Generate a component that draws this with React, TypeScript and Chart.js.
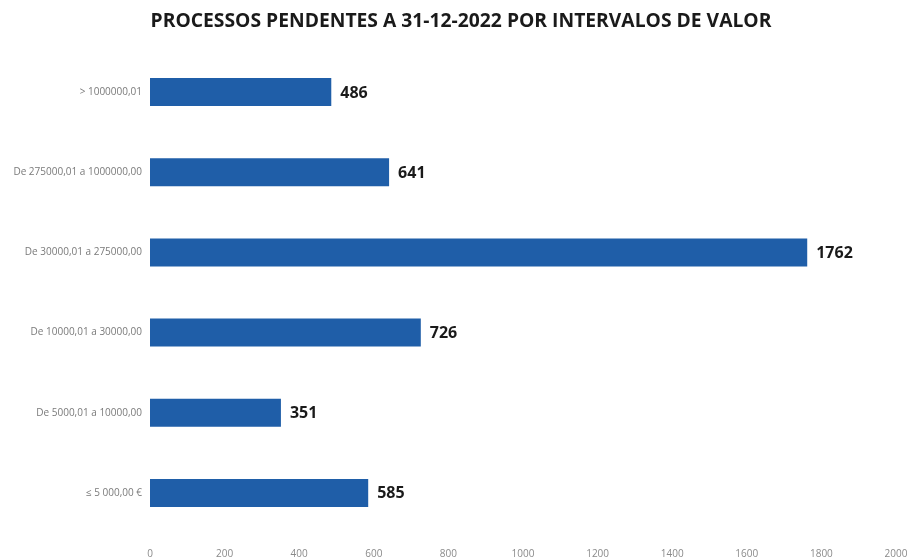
import React, { useEffect, useRef } from "react";
import { Chart, registerables } from "chart.js";

Chart.register(...registerables);

const TITLE = "PROCESSOS PENDENTES A 31-12-2022 POR INTERVALOS DE VALOR";
const categories = [
  "> 1000000,01",
  "De 275000,01 a 1000000,00",
  "De 30000,01 a 275000,00",
  "De 10000,01 a 30000,00",
  "De 5000,01 a 10000,00",
  "≤ 5 000,00 €",
];
const values = [486, 641, 1762, 726, 351, 585];
const xTicks = [0, 200, 400, 600, 800, 1000, 1200, 1400, 1600, 1800, 2000];

const valueLabels = {
  id: "valueLabels",
  afterDatasetsDraw(chart: any) {
    const ctx = chart.ctx;
    const meta = chart.getDatasetMeta(0);
    ctx.save();
    ctx.font = "bold 16px 'Open Sans', sans-serif";
    ctx.fillStyle = "#1a1a1a";
    ctx.textAlign = "left";
    ctx.textBaseline = "middle";
    meta.data.forEach((bar: any, i: number) => {
      ctx.fillText(String(values[i]), bar.x + 9, bar.y + 1);
    });
    ctx.restore();
  },
};

const titlePlugin = {
  id: "customTitle",
  afterDraw(chart: any) {
    const ctx = chart.ctx;
    ctx.save();
    ctx.font = "bold 19.3px 'Open Sans', sans-serif";
    ctx.fillStyle = "#1a1a1a";
    ctx.textAlign = "center";
    ctx.textBaseline = "middle";
    ctx.fillText(TITLE, 461, 22);
    ctx.restore();
  },
};

export default function App() {
  const ref = useRef<HTMLCanvasElement | null>(null);
  useEffect(() => {
    if (!ref.current) return;
    const chart = new Chart(ref.current, {
      type: "bar",
      data: {
        labels: categories,
        datasets: [
          {
            data: values,
            backgroundColor: "#1f5ea8",
            borderWidth: 0,
            categoryPercentage: 1,
            barPercentage: 0.35,
          },
        ],
      },
      options: {
        indexAxis: "y",
        animation: false,
        responsive: true,
        maintainAspectRatio: false,
        layout: { padding: { left: 0, right: 13, top: 52, bottom: 0 } },
        plugins: {
          legend: { display: false },
          tooltip: { enabled: false },
          title: { display: false },
        },
        scales: {
          x: {
            min: 0,
            max: 2000,
            afterBuildTicks: (s: any) => {
              s.ticks = xTicks.map((v) => ({ value: v }));
            },
            afterFit: (s: any) => {
              s.height = 24;
              s.paddingLeft = 0;
              s.paddingRight = 0;
            },
            grid: { display: false },
            border: { display: false },
            ticks: {
              color: "#8a8a8a",
              font: { family: "'Open Sans', sans-serif", size: 10 },
              padding: 7,
              maxRotation: 0,
              callback: (v: any) => String(v),
            },
          },
          y: {
            afterFit: (s: any) => {
              s.width = 150;
              s.paddingTop = 0;
              s.paddingBottom = 0;
            },
            grid: { display: false },
            border: { display: false },
            ticks: {
              color: "#7a7a7a",
              font: { family: "'Open Sans', sans-serif", size: 10 },
              padding: 0,
            },
          },
        },
      },
      plugins: [valueLabels, titlePlugin],
    });
    return () => chart.destroy();
  }, []);
  return (
    <div style={{ position: "fixed", left: 0, top: 0, width: 909, height: 557, background: "#fff" }}>
      <canvas ref={ref} />
    </div>
  );
}
